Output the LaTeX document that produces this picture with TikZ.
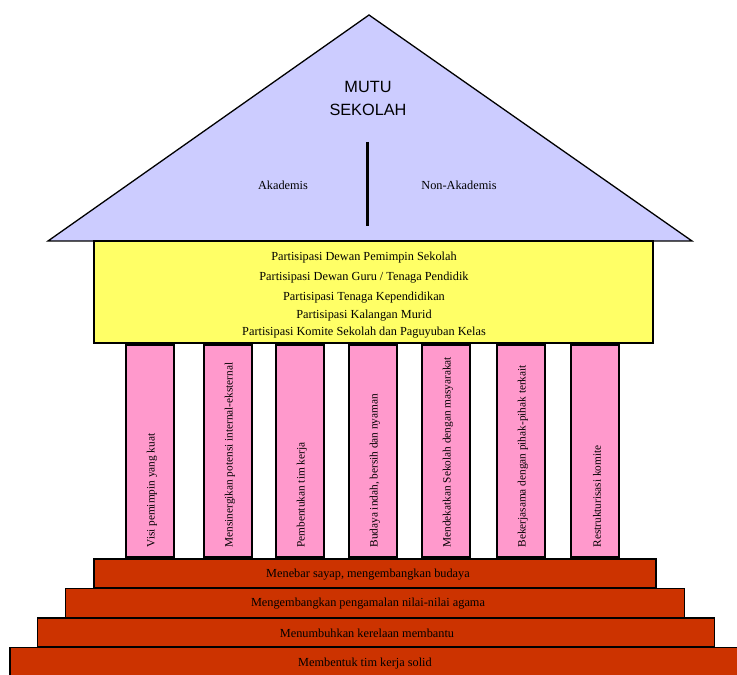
\documentclass[tikz,border=0pt]{standalone}
\usepackage{fontspec}
\setmainfont{Liberation Serif}
\newfontfamily\roofsans{Liberation Sans}
\usetikzlibrary{positioning}
\definecolor{roofblue}{RGB}{204,204,255}
\definecolor{beamyellow}{RGB}{255,255,102}
\definecolor{pillarpink}{RGB}{255,153,204}
\definecolor{steprust}{RGB}{204,51,0}

\begin{document}
\begin{tikzpicture}
		[x=1pt,y=1pt,
		node distance=74pt,on grid,
		every node/.style={inner sep=0pt},
		beam/.style= {draw,line width=1.3pt,fill=beamyellow,minimum width=559pt,minimum height=102pt},
		pillar/.style= {draw,line width=1.3pt,fill=pillarpink,minimum width=48pt,minimum height=212pt},
		stair/.style= {draw,line width=1.3pt,fill=steprust,minimum height=29pt},
		beam text/.style= {font=\fontsize{12.3}{14}\selectfont},
		pillar text/.style= {font=\fontsize{11.3}{13}\selectfont, rotate=90, anchor=west}
		]
		\useasboundingbox (0,0) rectangle (737,675);

		% roof
		\coordinate (eaveL) at (48,434);
		\coordinate (ridge) at (369,660);
		\coordinate (eaveR) at (692,434);
		\draw [fill=roofblue, line width=1.3pt, line join=miter] (eaveL) -- (ridge) -- (eaveR) -- cycle;
		\coordinate (divtop) at (367,533);
		\coordinate (divbot) at (367,449);
		\draw [line width=3pt] (divtop) -- (divbot);
		\node (mutu) at (368,577) [align=center, font=\roofsans\fontsize{16.3}{23}\selectfont] {MUTU\\SEKOLAH};
		\node (akad) at (283,490) [beam text] {Akademis};
		\node (nonakad) at (459,490) [beam text] {Non-Akademis};

		% beam
		\node [beam] (B) at (373.5,383) {};
			\node [beam text] (B1) at (364,417) {Partisipasi Dewan Pemimpin Sekolah};
			\node [beam text] (B2) at (364,397) {Partisipasi Dewan Guru / Tenaga Pendidik};
			\node [beam text] (B3) at (364,377) {Partisipasi Tenaga Kependidikan};
			\node [beam text] (B4) at (364,359) {Partisipasi Kalangan Murid};
			\node [beam text] (B5) at (364,342) {Partisipasi Komite Sekolah dan Paguyuban Kelas};

		% pillars
		\node [pillar] (P1) at (150,224) {};
		\node [pillar] (P2) [right=of P1, xshift=4pt] {};
		\node [pillar] (P3) [right=of P2, xshift=-2pt] {};
		\node [pillar] (P4) [right=of P3, xshift=-1pt] {};
		\node [pillar] (P5) [right=of P4, xshift=-1pt] {};
		\node [pillar] (P6) [right=of P5, xshift=1pt] {};
		\node [pillar] (P7) [right=of P6] {};
			\node [pillar text] (T1) at ([xshift=2pt, yshift=10pt]P1.south) {Visi pemimpin yang kuat};
			\node [pillar text] (T2) at ([xshift=2pt, yshift=10pt]P2.south) {Mensinergikan potensi internal-eksternal};
			\node [pillar text] (T3) at ([xshift=2pt, yshift=10pt]P3.south) {Pembentukan tim kerja};
			\node [pillar text] (T4) at ([xshift=2pt, yshift=10pt]P4.south) {Budaya indah, bersih dan nyaman};
			\node [pillar text] (T5) at ([xshift=2pt, yshift=10pt]P5.south) {Mendekatkan Sekolah dengan masyarakat};
			\node [pillar text] (T6) at ([xshift=2pt, yshift=10pt]P6.south) {Bekerjasama dengan pihak-pihak terkait};
			\node [pillar text] (T7) at ([xshift=2pt, yshift=10pt]P7.south) {Restrukturisasi komite};

		% steps
		\node [stair] (S1) at (375,101.5) [minimum width=562pt] {};
		\node [stair] (S2) [below=29.5pt of S1, minimum width=619pt] {};
		\node [stair] (S3) [below=29.5pt of S2, xshift=1pt, minimum width=677pt] {};
		\node [stair] (S4) [below=29.5pt of S3, xshift=4pt, minimum width=740pt] {};
			\node [beam text] (L1) at ([xshift=-7pt, yshift=-1pt]S1.center) {Menebar sayap, mengembangkan budaya};
			\node [beam text] (L2) at ([xshift=-7pt, yshift=-1pt]S2.center) {Mengembangkan pengamalan nilai-nilai agama};
			\node [beam text] (L3) at ([xshift=-9pt, yshift=-1pt]S3.center) {Menumbuhkan kerelaan membantu};
			\node [beam text] (L4) at ([xshift=-15pt, yshift=-2pt]S4.center) {Membentuk tim kerja solid};

	\end{tikzpicture}
\end{document}
